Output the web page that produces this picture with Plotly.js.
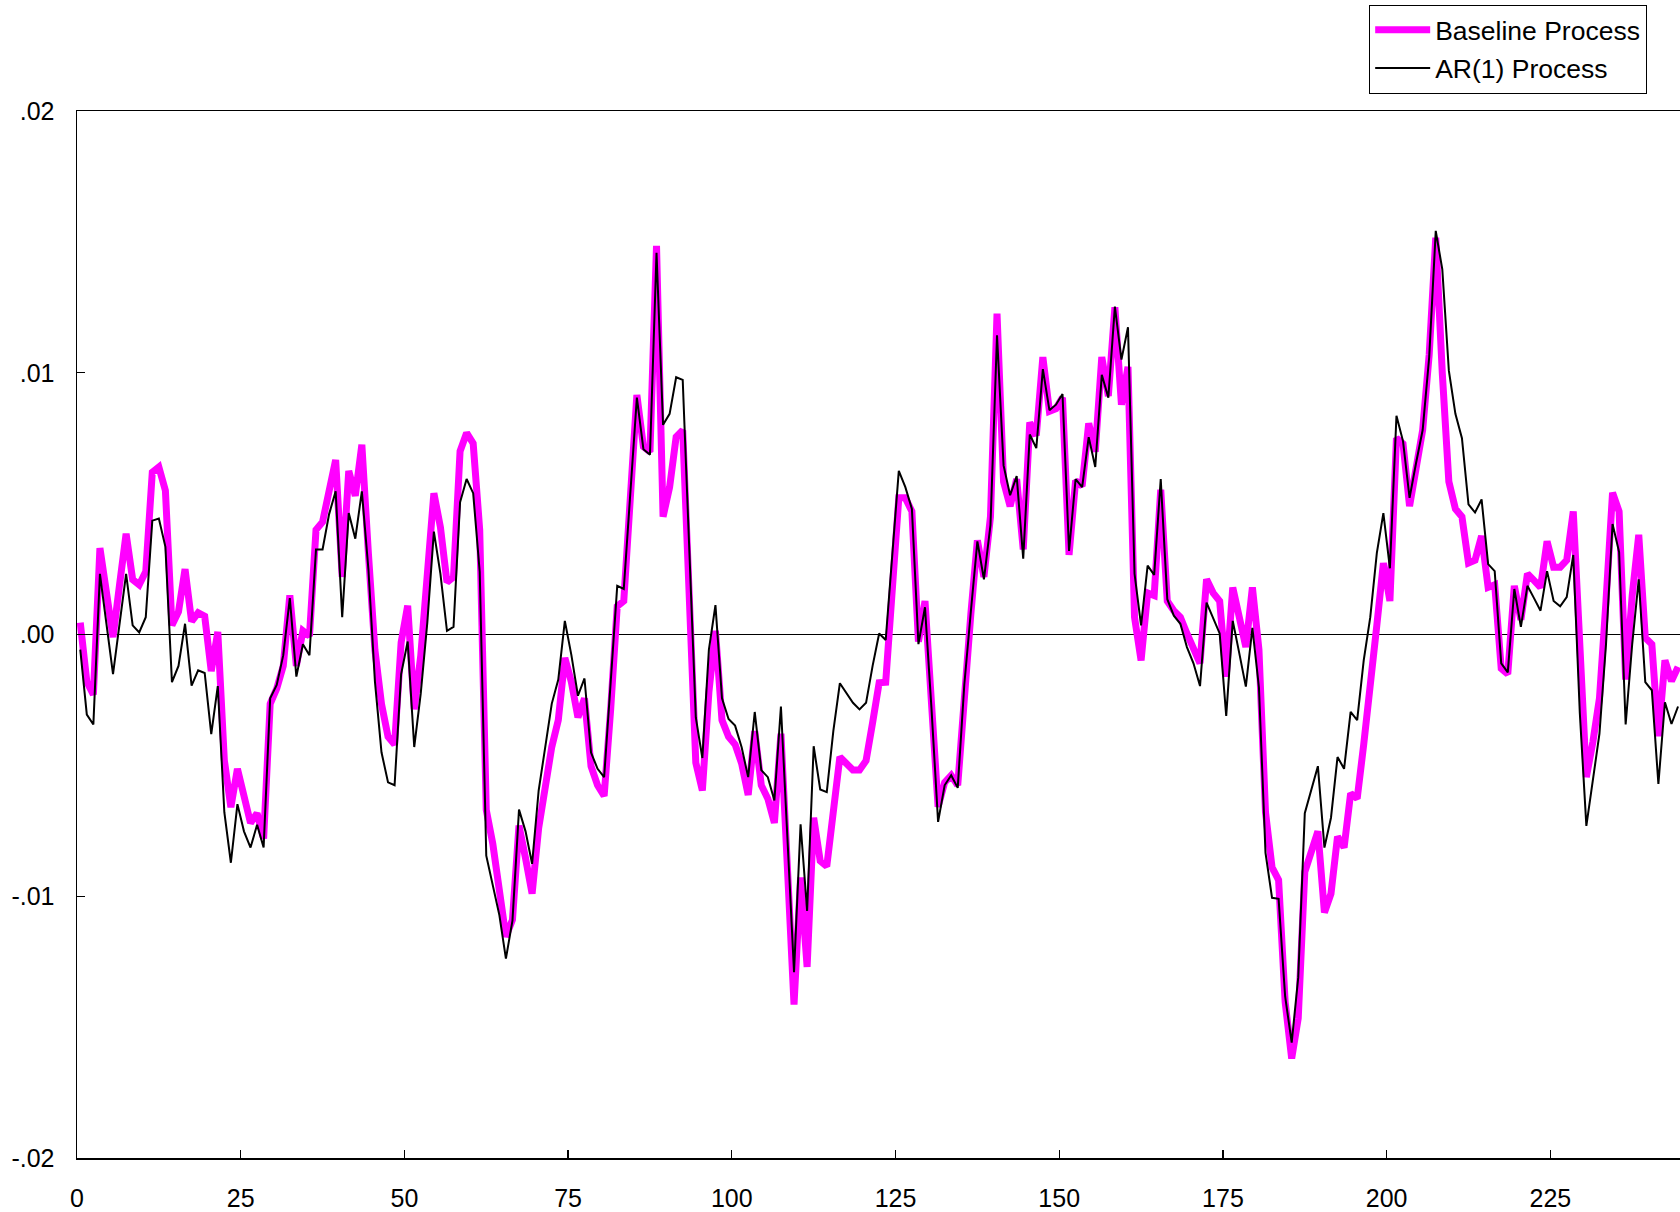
<!DOCTYPE html>
<html>
<head>
<meta charset="utf-8">
<script src="https://cdn.plot.ly/plotly-3.0.1.min.js"></script>
<style>html,body{margin:0;padding:0;background:#fff;}#chart{width:1680px;height:1212px;}</style>
</head>
<body>
<div id="chart"></div>
<script>
// Baseline Process (magenta), periods 0..244
const baseline = [
 0.00045,-0.0018,-0.0023,0.0033,0.0016,-0.0001,0.0019,0.00385,0.0021,0.0019,
 0.0024,0.0062,0.0064,0.0055,0.00035,0.00087,0.0025,0.0005,0.00083,0.0007,
 -0.0014,0.0001,-0.0048,-0.0066,-0.00513,-0.00627,-0.0072,-0.00683,-0.0078,-0.00265,
 -0.00207,-0.0012,0.0015,-0.0012,0.00014,-0.00006,0.004,0.0043,0.0056,0.00667,
 0.0022,0.00625,0.0053,0.00725,0.0031,-0.0006,-0.00265,-0.0039,-0.0042,-0.0003,
 0.0011,-0.00286,-0.0008,0.0022,0.0054,0.0041,0.002,0.0022,0.007,0.0077,
 0.0073,0.004,-0.0067,-0.008,-0.0097,-0.01155,-0.0109,-0.0073,-0.00855,-0.0099,
 -0.0074,-0.00596,-0.0043,-0.00327,-0.00089,-0.00182,-0.00317,-0.00244,-0.00503,-0.00576,
 -0.00617,-0.00286,0.00108,0.00128,0.00522,0.00915,0.00718,0.00698,0.01485,0.0045,
 0.00563,0.00755,0.0078,0.001,-0.0049,-0.00596,-0.0022,0.00014,-0.00327,-0.0039,
 -0.0042,-0.00493,-0.00613,-0.00369,-0.00576,-0.00627,-0.0072,-0.00379,-0.00886,-0.01414,
 -0.00928,-0.0127,-0.007,-0.00865,-0.00886,-0.00658,-0.00468,-0.00493,-0.00518,-0.00518,
 -0.00482,-0.00337,-0.00184,-0.00182,0.0017,0.00522,0.00522,0.0047,-0.00027,0.00128,
 -0.00265,-0.00658,-0.00565,-0.00538,-0.00576,-0.00203,0.00077,0.0036,0.0022,0.0045,
 0.01226,0.00584,0.0049,0.00594,0.00325,0.0081,0.0076,0.0106,0.00853,0.00863,
 0.00905,0.00304,0.00588,0.00567,0.00807,0.00698,0.0106,0.00911,0.0125,0.00878,
 0.01023,0.00066,-0.00099,0.00159,0.00149,0.00553,0.00128,0.00091,0.00066,0.00004,
 -0.00048,-0.0011,0.00211,0.00159,0.00128,-0.00161,0.0018,0.00066,-0.00048,0.0018,
 -0.00058,-0.00679,-0.0089,-0.00938,-0.01404,-0.0162,-0.01466,-0.00907,-0.00834,-0.00752,
 -0.01062,-0.0099,-0.00772,-0.00814,-0.00607,-0.00627,-0.0042,-0.00213,0.00035,0.00273,
 0.00128,0.0075,0.00729,0.0049,0.00625,0.00781,0.0107,0.01516,0.00998,0.00584,
 0.0048,0.0045,0.00273,0.00284,0.00377,0.0018,0.0019,-0.0013,-0.00151,0.00186,
 0.00056,0.00232,0.00207,0.0018,0.00356,0.00257,0.00257,0.00284,0.0047,-0.0008,
 -0.00545,-0.0041,-0.00244,0.00128,0.00542,0.0047,-0.00172,0.00149,0.00381,-0.00012,
 -0.00037,-0.00389,-0.00099,-0.00178,-0.00124
];
// AR(1) Process (black), periods 0..244
const ar1 = [
 -0.00058,-0.00306,-0.00344,0.00232,0.0004,-0.00151,0.00041,0.00232,0.00035,0.00008,
 0.00066,0.00435,0.00443,0.00335,-0.00182,-0.0012,0.00041,-0.00195,-0.00137,-0.00147,
 -0.00381,-0.00197,-0.00679,-0.00872,-0.00648,-0.00752,-0.00814,-0.00727,-0.00814,-0.00244,
 -0.00193,-0.00079,0.00139,-0.00161,-0.00037,-0.00079,0.00325,0.00325,0.0046,0.00547,
 0.00066,0.00464,0.00366,0.00547,0.0025,-0.0018,-0.0045,-0.00565,-0.00576,-0.00151,
 -0.00027,-0.0043,-0.00224,0.00046,0.00393,0.00232,0.00014,0.00029,0.00505,0.00594,
 0.0054,0.0024,-0.00845,-0.00959,-0.01072,-0.01238,-0.01093,-0.00669,-0.00752,-0.00876,
 -0.00596,-0.00431,-0.00265,-0.00172,0.00052,-0.00079,-0.00234,-0.00168,-0.00451,-0.00513,
 -0.00545,-0.00182,0.00186,0.00174,0.00542,0.00905,0.00708,0.00687,0.01458,0.00801,
 0.00843,0.00983,0.00973,0.0033,-0.00317,-0.00472,-0.00058,0.00112,-0.00244,-0.00323,
 -0.00348,-0.00431,-0.00545,-0.00296,-0.00518,-0.00545,-0.00634,-0.00275,-0.0078,-0.0129,
 -0.00725,-0.01056,-0.00427,-0.00592,-0.00602,-0.00369,-0.00186,-0.00224,-0.00261,-0.00286,
 -0.00261,-0.0012,0.00004,-0.00021,0.00304,0.00625,0.00563,0.0048,-0.00037,0.00104,
 -0.00286,-0.00716,-0.00576,-0.00538,-0.00586,-0.00193,0.00087,0.00356,0.00211,0.00418,
 0.01143,0.00646,0.00532,0.00605,0.0029,0.00764,0.00712,0.01014,0.00857,0.00878,
 0.00919,0.00319,0.00594,0.00563,0.00754,0.0064,0.00992,0.00905,0.01253,0.0105,
 0.01174,0.00232,0.00035,0.00263,0.00228,0.00594,0.00135,0.00072,0.00041,-0.00048,
 -0.0011,-0.00197,0.00122,0.0006,0.00004,-0.00311,0.00052,-0.00072,-0.00199,0.00025,
 -0.00203,-0.00834,-0.01006,-0.0101,-0.01383,-0.01559,-0.0131,-0.00683,-0.00596,-0.00503,
 -0.00814,-0.007,-0.00468,-0.00513,-0.00296,-0.00327,-0.00099,0.00066,0.00311,0.00464,
 0.00253,0.00836,0.00739,0.00522,0.00656,0.00781,0.0106,0.01542,0.01395,0.01008,
 0.00843,0.0075,0.00497,0.00466,0.00516,0.00269,0.00242,-0.0011,-0.00145,0.00174,
 0.00029,0.00186,0.00139,0.00091,0.00242,0.00128,0.00108,0.00143,0.00304,-0.003,
 -0.00731,-0.00555,-0.00379,-0.00037,0.00422,0.00315,-0.00344,-0.00037,0.00211,-0.00182,
 -0.00213,-0.00571,-0.00259,-0.00342,-0.00275
];
// period positions (each observation centred in its unit)
const periods = baseline.map((_, i) => i + 0.5);
const xTicks = [0, 25, 50, 75, 100, 125, 150, 175, 200, 225];
const yTicks = [-0.02, -0.01, 0, 0.01, 0.02];
const yTickText = ["-.02", "-.01", ".00", ".01", ".02"];
const seriesNames = ["Baseline Process", "AR(1) Process"];

const FONT = "Liberation Sans, Arial, Helvetica, sans-serif";

const traces = [
  {x: periods, y: baseline, type: "scatter", mode: "lines", name: seriesNames[0],
   legendgroup: "a", line: {color: "#ff00ff", width: 7, shape: "linear"}},
  {x: periods, y: ar1, type: "scatter", mode: "lines", name: seriesNames[1],
   legendgroup: "b", line: {color: "#000000", width: 2, shape: "linear"}}
];

const layout = {
  width: 1680, height: 1212,
  margin: {l: 77, r: 0, t: 111, b: 54, pad: 0},
  paper_bgcolor: "#ffffff", plot_bgcolor: "#ffffff",
  font: {family: FONT, size: 25, color: "#000"},
  showlegend: true,
  legend: {x: 0.9794, xanchor: "right", y: 1.1015, yanchor: "top",
           bgcolor: "#ffffff", bordercolor: "#000", borderwidth: 1.2,
           itemwidth: 55, tracegroupgap: 1,
           font: {family: FONT, size: 26.5, color: "#000"}},
  xaxis: {range: [0, 244.8], tickvals: xTicks, ticktext: xTicks.map(String),
          ticks: "inside", ticklen: 8, tickwidth: 1.3, tickcolor: "#000",
          showline: true, linecolor: "#000", linewidth: 1.5, mirror: true,
          showgrid: false, zeroline: false, ticklabelstandoff: 17,
          tickfont: {family: FONT, size: 25, color: "#000"}},
  yaxis: {range: [-0.02, 0.02], tickvals: yTicks, ticktext: yTickText,
          ticks: "inside", ticklen: 8, tickwidth: 1.3, tickcolor: "#000",
          showline: true, linecolor: "#000", linewidth: 1.5,
          showgrid: false, zeroline: true, zerolinecolor: "#000", zerolinewidth: 1,
          ticklabelstandoff: 16,
          tickfont: {family: FONT, size: 25, color: "#000"}}
};

Plotly.newPlot("chart", traces, layout, {displayModeBar: false, staticPlot: true});
</script>
</body>
</html>
